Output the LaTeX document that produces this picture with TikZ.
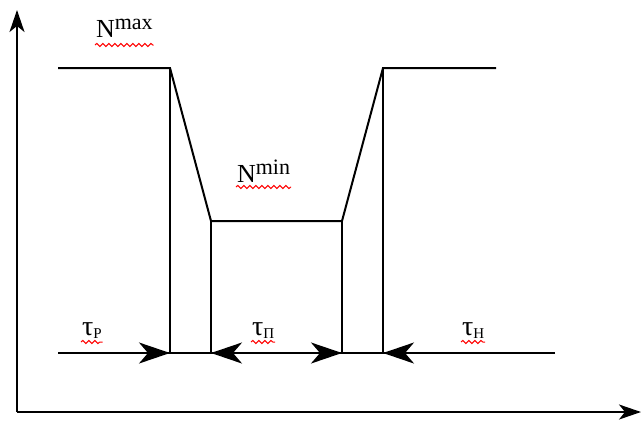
\documentclass[tikz,border=0pt]{standalone}
\usepackage{fontspec}
\setmainfont{Liberation Serif}
\usetikzlibrary{arrows.meta,decorations.pathmorphing}

\begin{document}
\begin{tikzpicture}[
    x=1pt, y=-1pt,
    line width=2pt,
    >={Stealth[length=31pt,width=21pt,inset=9pt]},
    axis/.style={->, >={Stealth[length=22pt,width=15pt,inset=6pt]}},
    lbl/.style={inner sep=0pt, anchor=base west},
    spell/.style={draw=red, line width=1pt, decorate,
      decoration={snake, amplitude=1.6pt, segment length=6pt}},
  ]
\useasboundingbox (0,0) rectangle (642,421);

% axes
\coordinate (o) at (17,412);
\coordinate (ytop) at (17,10);
\coordinate (xend) at (641,412);
\draw[axis] (o) -- (ytop);
\draw[axis] (o) -- (xend);

% corners of the profile
\coordinate (a0) at (58,68);
\coordinate (a1) at (170,68);
\coordinate (b1) at (211,221);
\coordinate (b2) at (342,221);
\coordinate (a2) at (383,68);
\coordinate (a3) at (496,68);

% time line
\coordinate (t0) at (58,353);
\coordinate (t5) at (555,353);

\draw (a0) -- (a1) -- (b1) -- (b2) -- (a2) -- (a3);
\draw (a1) -- (a1 |- t0);
\draw (b1) -- (b1 |- t0);
\draw (b2) -- (b2 |- t0);
\draw (a2) -- (a2 |- t0);
\draw (t0) -- (t5);

% intervals
\draw[->] (t0) -- (a1 |- t0);
\draw[<->] (b1 |- t0) -- (b2 |- t0);
\draw[->] (t5) -- (a2 |- t0);

% labels
\node[lbl] (nmax) at (95,37) {\fontsize{26}{26}\selectfont N\raisebox{8pt}{\fontsize{22}{22}\selectfont max}};
\node[lbl] (nmin) at (236,182) {\fontsize{26}{26}\selectfont N\raisebox{8pt}{\fontsize{22}{22}\selectfont min}};
\node[lbl] (tr) at (81,335) {\fontsize{28}{28}\selectfont τ\raisebox{-3pt}{\fontsize{15}{15}\selectfont Р}};
\node[lbl] (tpp) at (251,335) {\fontsize{28}{28}\selectfont τ\raisebox{-3pt}{\fontsize{15}{15}\selectfont П}};
\node[lbl] (tn) at (461,335) {\fontsize{28}{28}\selectfont τ\raisebox{-3pt}{\fontsize{15}{15}\selectfont Н}};

% spell-check marks
\draw[spell] ([yshift=-8pt]nmax.base west) -- ([yshift=-8pt]nmax.base east);
\draw[spell] ([yshift=-5pt]nmin.base west) -- ([yshift=-5pt]nmin.base east);
\draw[spell] ([yshift=-7pt]tr.base west) -- ([yshift=-7pt]tr.base east);
\draw[spell] ([yshift=-7pt]tpp.base west) -- ([yshift=-7pt]tpp.base east);
\draw[spell] ([yshift=-7pt]tn.base west) -- ([yshift=-7pt]tn.base east);

\end{tikzpicture}
\end{document}
